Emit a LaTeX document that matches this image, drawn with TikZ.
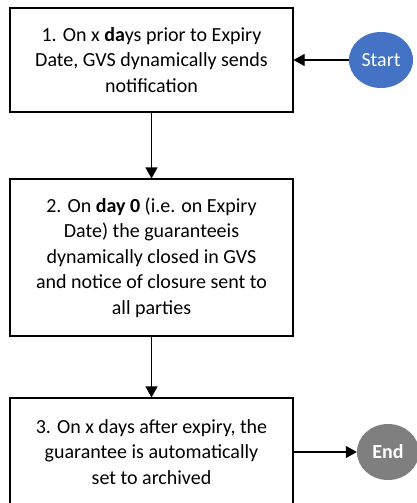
\documentclass[tikz,border=0pt]{standalone}
\usepackage{fontspec}
\setmainfont{Carlito}
\usetikzlibrary{arrows.meta,shapes.geometric}
\definecolor{startblue}{HTML}{4472C4}
\definecolor{endgrey}{HTML}{7F7F7F}
\tikzset{
  stepbox/.style={draw=black, line width=1.1pt, fill=white, minimum width=283pt,
    align=center, font=\fontsize{20}{25.5}\selectfont, inner sep=0pt},
  terminal/.style={ellipse, draw=none, minimum width=64pt, minimum height=56pt,
    text=white, font=\fontsize{20}{22}\selectfont, inner sep=0pt},
  flow/.style={line width=1.1pt, -{Triangle[width=12pt,length=11pt]}}
}
\begin{document}
\begin{tikzpicture}[x=1pt,y=-1pt]
  \useasboundingbox (0,0) rectangle (417,503);
  \clip (0,0) rectangle (417,503);
  \fill[white] (0,0) rectangle (417,503);
  \node[stepbox, minimum height=104pt] (s1) at (151.5,60)
    {1. On x \textbf{da}ys prior to Expiry\\Date, GVS dynamically sends\\notification};
  \node[stepbox, minimum height=157pt] (s2) at (151.5,257.5)
    {2. On \textbf{day 0} (i.e. on Expiry\\Date) the guaranteeis\\dynamically closed in GVS\\and notice of closure sent to\\all parties};
  \node[stepbox, minimum height=108pt] (s3) at (151.5,452)
    {3. On x days after expiry, the\\guarantee is automatically\\set to archived};
  \node[terminal, fill=startblue] (start) at (381,60) {Start};
  \node[terminal, fill=endgrey, minimum width=62pt] (end) at (388,452) {\textbf{End}};
  \draw[flow] (start) -- (s1);
  \draw[flow] (s1) -- (s2);
  \draw[flow] (s2) -- (s3);
  \draw[flow] (s3) -- (end);
\end{tikzpicture}
\end{document}
